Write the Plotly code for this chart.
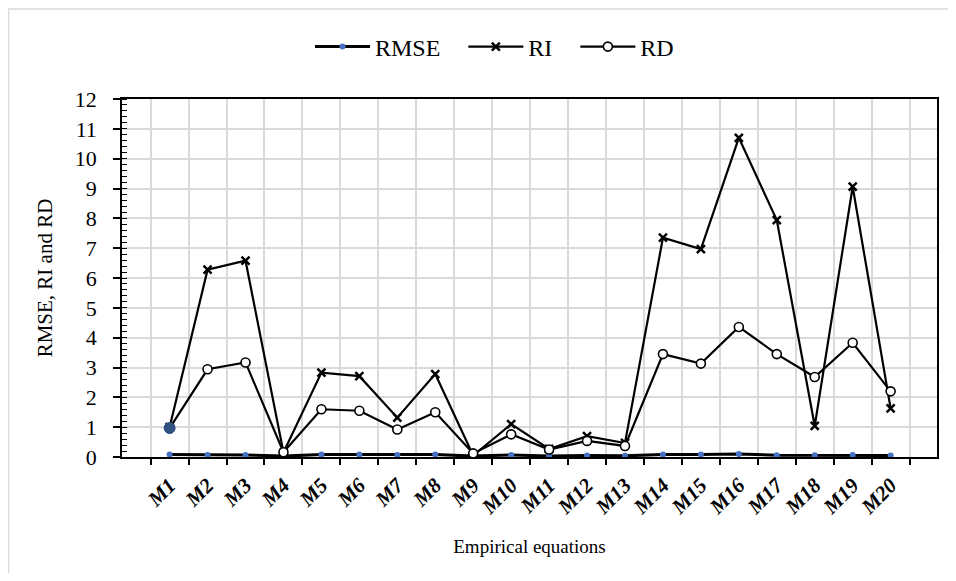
import plotly.graph_objects as go

categories = [f"M{i}" for i in range(1, 21)]
rmse = [0.08, 0.07, 0.07, 0.03, 0.08, 0.08, 0.07, 0.08, 0.03, 0.07,
        0.03, 0.05, 0.04, 0.08, 0.08, 0.10, 0.06, 0.06, 0.07, 0.05]
ri = [1.00, 6.28, 6.58, 0.15, 2.83, 2.71, 1.32, 2.78, 0.05, 1.10,
      0.27, 0.70, 0.47, 7.35, 6.97, 10.70, 7.94, 1.04, 9.06, 1.63]
rd = [0.97, 2.94, 3.17, 0.16, 1.60, 1.55, 0.92, 1.50, 0.12, 0.76,
      0.25, 0.54, 0.37, 3.45, 3.13, 4.36, 3.45, 2.68, 3.83, 2.20]
y_ticks = list(range(0, 13))
series_names = ["RMSE", "RI", "RD"]

FONT = "Liberation Serif, Times New Roman, serif"
PAD = "\u00a0\u00a0\u00a0"  # extra spacing after legend text, like the original

fig = go.Figure()
fig.add_trace(go.Scatter(
    x=categories, y=rmse, name=series_names[0] + PAD, mode="lines+markers",
    line=dict(color="black", width=3),
    marker=dict(symbol="circle", size=6, color="#4472C4"),
))
fig.add_trace(go.Scatter(
    x=categories, y=ri, name=series_names[1] + PAD, mode="lines+markers",
    line=dict(color="black", width=2.2),
    marker=dict(symbol="x-thin", size=8, color="black",
                line=dict(color="black", width=2.5)),
))
fig.add_trace(go.Scatter(
    x=categories, y=rd, name=series_names[2], mode="lines+markers",
    line=dict(color="black", width=2.2),
    marker=dict(symbol="circle", size=9, color="white",
                line=dict(color="black", width=1.6)),
))
# highlighted first point of RD
fig.add_trace(go.Scatter(
    x=categories[:1], y=rd[:1], mode="markers", showlegend=False,
    marker=dict(symbol="circle", size=11, color="#2F5283",
                line=dict(color="#2F5283", width=1)),
))

# page has an 8px body margin; figure coordinates below are screen - 8
FW, FH = 940, 565
L, R, T, B = 114, 929, 91, 449
W, H = R - L, B - T
def px(x):
    return (x - L) / W
def py(y):
    return (B - y) / H

fig.add_shape(type="rect", xref="paper", yref="paper",
              x0=px(0.5), x1=px(1000), y0=py(700), y1=py(1),
              line=dict(color="#D9D9D9", width=1.5), fillcolor="rgba(0,0,0,0)",
              layer="below")

fig.update_layout(
    width=FW, height=FH,
    margin=dict(l=L, r=FW - R, t=T, b=FH - B, autoexpand=False),
    paper_bgcolor="white", plot_bgcolor="white",
    font=dict(family=FONT, color="black", size=19),
    legend=dict(orientation="h", x=px(302), y=py(39), xanchor="left",
                yanchor="middle", font=dict(family=FONT, size=24),
                itemwidth=55, tracegroupgap=0, bgcolor="rgba(0,0,0,0)"),
    showlegend=True,
)
fig.update_xaxes(
    type="category", tickson="boundaries", automargin=False,
    showgrid=True, gridcolor="#D9D9D9", gridwidth=1.5,
    showline=True, linecolor="black", linewidth=1.5, mirror=True,
    ticks="outside", ticklen=6, tickcolor="black", tickwidth=1.5,
    tickangle=-45, ticklabelstandoff=6,
    tickfont=dict(family=FONT, size=21, weight="bold", style="italic"),
    title=dict(text="Empirical equations", font=dict(family=FONT, size=19), standoff=22),
)
fig.update_yaxes(
    range=[0, 12], tickvals=y_ticks, ticktext=[str(v) for v in y_ticks],
    automargin=False,
    showgrid=True, gridcolor="#D9D9D9", gridwidth=1.5,
    showline=True, linecolor="black", linewidth=1.5, mirror=True,
    ticks="outside", ticklen=7, tickcolor="black", tickwidth=1.5,
    ticklabelstandoff=12,
    minor=dict(ticks="inside", dtick=0.2, ticklen=5, tickcolor="black",
               tickwidth=1, showgrid=False),
    tickfont=dict(family=FONT, size=22),
    title=dict(text="RMSE, RI and RD", font=dict(family=FONT, size=21), standoff=16),
    zeroline=False,
)

fig.write_html("out.html")
